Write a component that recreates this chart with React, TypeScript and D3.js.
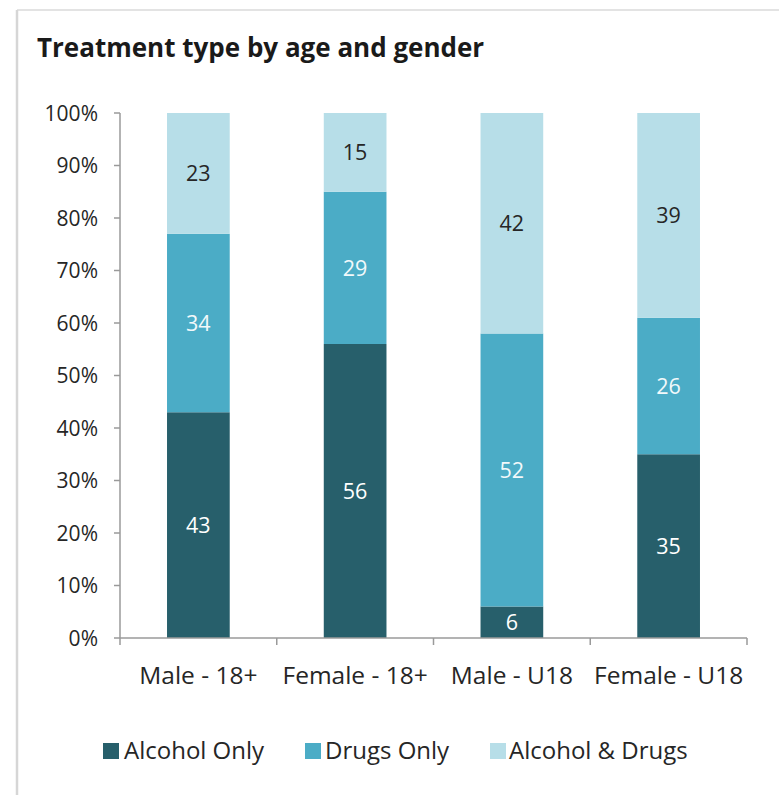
import React from "react";
import * as d3 from "d3";

const categories = ["Male - 18+", "Female - 18+", "Male - U18", "Female - U18"];
const seriesNames = ["Alcohol Only", "Drugs Only", "Alcohol & Drugs"];
const alcoholOnly = [43, 56, 6, 35];
const drugsOnly = [34, 29, 52, 26];
const alcoholAndDrugs = [23, 15, 42, 39];
const yTicks = [0, 10, 20, 30, 40, 50, 60, 70, 80, 90, 100];
const colors = ["#275f6b", "#4bacc6", "#b7dee8"];
const labelColors = ["#ffffff", "#f2f9fb", "#262626"];

const W = 779;
const H = 795;
const FONT = "'Open Sans', 'Noto Sans', sans-serif";

export default function App() {
  const left = 120;
  const right = 747;
  const top = 113;
  const bottom = 638;

  const x = d3.scaleBand<string>().domain(categories).range([left, right]).paddingInner(0.6).paddingOuter(0.3);
  const xb = d3.scaleBand<string>().domain(categories).range([left, right]);
  const y = d3.scaleLinear().domain([0, 100]).range([bottom, top]);

  const table = categories.map((c, i) => ({
    cat: c,
    "Alcohol Only": alcoholOnly[i],
    "Drugs Only": drugsOnly[i],
    "Alcohol & Drugs": alcoholAndDrugs[i],
  }));
  const stacked = d3.stack<any>().keys(seriesNames)(table);

  const legendItems = [
    { name: seriesNames[0], sx: 103, tx: 124 },
    { name: seriesNames[1], sx: 305, tx: 325 },
    { name: seriesNames[2], sx: 490, tx: 509 },
  ];

  const axisColor = "#9a9a9a";
  const boundaries = [left, ...categories.map((c) => (xb(c) as number) + xb.bandwidth())];

  return (
    <svg width={W} height={H} style={{ position: "absolute", left: 0, top: 0, background: "#fff" }} fontFamily={FONT}>
      <rect x={0} y={0} width={W} height={H} fill="#ffffff" />
      {/* frame */}
      <line x1={17} y1={10} x2={W} y2={10} stroke="#e3e3e3" strokeWidth={2} />
      <line x1={17} y1={10} x2={17} y2={H} stroke="#d6d6d6" strokeWidth={2.5} />

      <text x={37} y={57} fontSize={26} fontWeight={700} fill="#1a1a1a">
        Treatment type by age and gender
      </text>

      {/* bars */}
      {stacked.map((s, si) => (
        <g key={s.key}>
          {s.map((d, i) => {
            const c = categories[i];
            const y0 = y(d[0]);
            const y1 = y(d[1]);
            const val = d[1] - d[0];
            return (
              <g key={c}>
                <rect x={x(c)} y={y1} width={x.bandwidth()} height={y0 - y1} fill={colors[si]} />
                <text
                  x={(x(c) as number) + x.bandwidth() / 2}
                  y={(y0 + y1) / 2}
                  dy="0.36em"
                  textAnchor="middle"
                  fontSize={21.5}
                  fill={labelColors[si]}
                >
                  {val}
                </text>
              </g>
            );
          })}
        </g>
      ))}

      {/* y axis */}
      <line x1={left} y1={top} x2={left} y2={bottom} stroke={axisColor} strokeWidth={1.5} />
      {yTicks.map((t) => (
        <g key={t}>
          <line x1={left - 6} y1={y(t)} x2={left} y2={y(t)} stroke={axisColor} strokeWidth={1.5} />
          <text x={98} y={y(t)} dy="0.36em" textAnchor="end" fontSize={21} fill="#262626">
            {t}%
          </text>
        </g>
      ))}

      {/* x axis */}
      <line x1={left} y1={bottom} x2={right} y2={bottom} stroke={axisColor} strokeWidth={1.5} />
      {boundaries.map((b, i) => (
        <line key={i} x1={b} y1={bottom} x2={b} y2={bottom + 7} stroke={axisColor} strokeWidth={1.5} />
      ))}
      {categories.map((c) => (
        <text key={c} x={(xb(c) as number) + xb.bandwidth() / 2} y={684} textAnchor="middle" fontSize={24.5} fill="#262626">
          {c}
        </text>
      ))}

      {/* legend */}
      {legendItems.map((l, i) => (
        <g key={l.name}>
          <rect x={l.sx} y={743} width={16} height={16} fill={colors[i]} />
          <text x={l.tx} y={759} fontSize={24} fill="#262626">
            {l.name}
          </text>
        </g>
      ))}
    </svg>
  );
}
